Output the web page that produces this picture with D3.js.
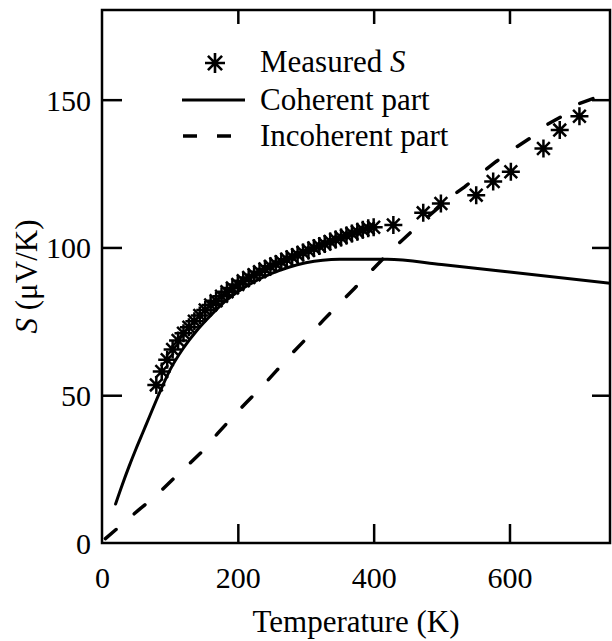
<!DOCTYPE html>
<html>
<head>
<meta charset="utf-8">
<script src="https://cdn.jsdelivr.net/npm/d3@7"></script>
<style>
html,body{margin:0;padding:0;background:#fff;}
svg{display:block;}
text{font-family:"Liberation Serif","Times New Roman",serif;fill:#000;}
</style>
</head>
<body>
<svg id="chart" width="612" height="641"></svg>
<script>
// ---- data ----
const measuredT = [80,88,96,104,112,120,128,136,144,152,160,168,176,184,192,200,208,216,224,232,240,248,256,264,272,280,288,296,304,312,320,328,336,344,352,360,368,376,384,392,400,429,473,499,551,576,602,650,674,703];
const measuredS = [53.5,58,62,65.5,68.5,71,73,75,77,78.8,80.5,82,83.5,85,86.3,87.5,88.7,89.8,90.8,91.8,92.7,93.6,94.4,95.2,96,96.8,97.5,98.3,99,99.8,100.5,101.2,102,102.7,103.4,104,104.7,105.3,106,106.5,106.8,107.6,111.7,114.9,117.7,122.3,125.6,133.5,139.7,144.4];

const coherentT = [20,30,40,50,60,70,80,90,100,120,140,160,180,200,225,250,275,300,325,350,420,500,600,750];
const coherentS = [13.2,19.8,26,31.8,37.3,42.8,48.3,53.6,58.5,66,72,77,81.5,85,88.5,91.2,93.3,94.8,95.7,96,96,94.2,91.7,87.8];

const incoherentT = [5,30,55,78,104,125,150,170,195,213,240,257,282,301,326,345,372,392,419,438,465,482,514,534,561,580,607,630,654,676,703,723,750];
const incoherentS = [1.5,6.4,11.4,15.7,21.5,26,31.5,37,43.3,47.6,54,58.3,64.7,69.2,75.4,79.9,86.2,91,97.4,101.6,107.3,110.8,117.2,120.5,125.6,129,133.5,136.9,141.4,144.2,148.7,150.4,150.2];

const xTicks = [0,200,400,600];
const yTicks = [0,50,100,150];
const legendLabels = ["Measured ", "Coherent part", "Incoherent part"];

// ---- layout ----
const svg = d3.select("#chart");
const L = 102, R = 610, T = 10, B = 543;
const x = d3.scaleLinear().domain([0, 748]).range([L, R]);
const y = d3.scaleLinear().domain([0, 180]).range([B, T + 1]);

svg.append("defs").append("clipPath").attr("id","clip")
  .append("rect").attr("x", L).attr("y", T).attr("width", R - L).attr("height", B - T);

const plot = svg.append("g").attr("clip-path","url(#clip)");

const line = d3.line().x(d => x(d[0])).y(d => y(d[1]));

// incoherent (dashed)
plot.append("path")
  .datum(incoherentT.map((t,i) => [t, incoherentS[i]]))
  .attr("d", line)
  .attr("fill","none").attr("stroke","#000").attr("stroke-width",3.5)
  .attr("stroke-dasharray","14,24").attr("stroke-linecap","round");

// coherent (solid)
plot.append("path")
  .datum(coherentT.map((t,i) => [t, coherentS[i]]))
  .attr("d", d3.line().x(d => x(d[0])).y(d => y(d[1])).curve(d3.curveMonotoneX))
  .attr("fill","none").attr("stroke","#000").attr("stroke-width",3)
  .attr("stroke-linecap","round");

// star marker
function starPath(r){
  const d = r * Math.SQRT1_2;
  return `M${-r},0L${r},0M0,${-r}L0,${r}M${-d},${-d}L${d},${d}M${-d},${d}L${d},${-d}`;
}
plot.selectAll("path.star")
  .data(measuredT.map((t,i) => [t, measuredS[i]]))
  .join("path").attr("class","star")
  .attr("transform", d => `translate(${x(d[0])},${y(d[1])})`)
  .attr("d", starPath(9))
  .attr("fill","none").attr("stroke","#000").attr("stroke-width",2.5);

// frame
svg.append("rect").attr("x",L).attr("y",T).attr("width",R-L).attr("height",B-T)
  .attr("fill","none").attr("stroke","#000").attr("stroke-width",2.5);

// axes via d3 axis generators (ticks inward)
const xAxisB = d3.axisBottom(x).tickValues(xTicks).tickSize(-19).tickPadding(22).tickFormat(d3.format("d"));
const gxb = svg.append("g").attr("transform",`translate(0,${B})`).call(xAxisB);
gxb.select(".domain").remove();
gxb.selectAll(".tick line").attr("stroke","#000").attr("stroke-width",2.5).filter(d => d === 0).remove();
gxb.selectAll(".tick text").attr("font-size",30).attr("dy","0.75em");

const xAxisT = d3.axisTop(x).tickValues(xTicks.filter(d => d > 0)).tickSize(-14).tickFormat("");
const gxt = svg.append("g").attr("transform",`translate(0,${T})`).call(xAxisT);
gxt.select(".domain").remove();
gxt.selectAll(".tick line").attr("stroke","#000").attr("stroke-width",2.5);

const yAxisL = d3.axisLeft(y).tickValues(yTicks).tickSize(-20).tickPadding(11).tickFormat(d3.format("d"));
const gyl = svg.append("g").attr("transform",`translate(${L},0)`).call(yAxisL);
gyl.select(".domain").remove();
gyl.selectAll(".tick line").attr("stroke","#000").attr("stroke-width",2.5).filter(d => d === 0).remove();
gyl.selectAll(".tick text").attr("font-size",30).attr("dy","0.35em");

const yAxisR = d3.axisRight(y).tickValues(yTicks.filter(d => d > 0)).tickSize(-18).tickFormat("");
const gyr = svg.append("g").attr("transform",`translate(${R},0)`).call(yAxisR);
gyr.select(".domain").remove();
gyr.selectAll(".tick line").attr("stroke","#000").attr("stroke-width",2.5);

// axis titles
svg.append("text").attr("x",(L+R)/2).attr("y",632).attr("text-anchor","middle")
  .attr("font-size",31).text("Temperature (K)");

const yt = svg.append("text").attr("transform",`translate(37,${(T+B)/2}) rotate(-90)`)
  .attr("text-anchor","middle").attr("font-size",31);
yt.append("tspan").attr("font-style","italic").text("S");
yt.append("tspan").text(" (μV/K)");

// legend
const lg = svg.append("g");
lg.append("path").attr("transform","translate(215,63)").attr("d",starPath(10))
  .attr("fill","none").attr("stroke","#000").attr("stroke-width",2.6);
const t0 = lg.append("text").attr("x",260).attr("y",72).attr("font-size",31);
t0.append("tspan").text(legendLabels[0]);
t0.append("tspan").attr("font-style","italic").text("S");
lg.append("line").attr("x1",182).attr("x2",245).attr("y1",100).attr("y2",100)
  .attr("stroke","#000").attr("stroke-width",3);
lg.append("text").attr("x",260).attr("y",110).attr("font-size",31).text(legendLabels[1]);
lg.append("line").attr("x1",183).attr("x2",231).attr("y1",136).attr("y2",136)
  .attr("stroke","#000").attr("stroke-width",3.5).attr("stroke-dasharray","14,20");
lg.append("text").attr("x",260).attr("y",146).attr("font-size",31).text(legendLabels[2]);
</script>
</body>
</html>
